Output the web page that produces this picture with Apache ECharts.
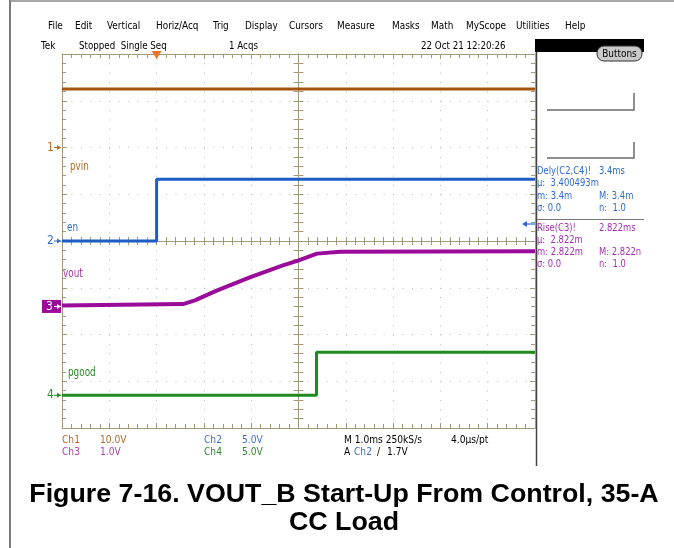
<!DOCTYPE html>
<html>
<head>
<meta charset="utf-8">
<script src="https://cdn.jsdelivr.net/npm/echarts@6/dist/echarts.min.js"></script>
<style>
  html, body { margin: 0; background: #fff; }
  #scope { width: 674px; height: 548px; }
</style>
</head>
<body>
<div id="scope"></div>
<script>
// channel setup as shown on the scope: volts per division and ground marker (div from centre)
const chLabels = ['pvin', 'en', 'vout', 'pgood']
const chVoltsPerDiv = [10, 5, 1, 5]
const chOffsetDiv = [2, 0, -1.4, -3.3]

// time in ms after the trigger, level in volts
const pvinTime = [-2, 8]
const pvinVolts = [12.5, 12.5]
const enTime = [-2, 0, 0, 8]
const enVolts = [0, 0, 6.6, 6.6]
const voutTime = [-2, 0.56, 0.81, 1.27, 1.97, 2.67, 2.99, 3.39, 3.88, 8]
const voutVolts = [0.02, 0.05, 0.13, 0.34, 0.62, 0.88, 0.98, 1.13, 1.17, 1.18]
const pgoodTime = [-2, 3.38, 3.38, 8]
const pgoodVolts = [0, 0, 4.6, 4.6]

const traceColors = ['#a4540c', '#1c5cc4', '#9a0b9a', '#1f8a1f']
const labelColors = ['#b86e25', '#2f6fd0', '#a43aa4', '#2a8a2a']

const gridColor = '#a39a7b'
const dotColor = '#b8b8b8'
const scopeFont = '"DejaVu Sans Condensed", "Liberation Sans", sans-serif'

const chart = echarts.init(document.getElementById('scope'))

function frameAxis(min, max, position, o) {
  o = o || {}
  return {
    type: 'value',
    min: min,
    max: max,
    interval: 1,
    position: position,
    axisLabel: { show: false },
    axisLine: {
      show: true,
      onZero: !!o.onZero,
      onZeroAxisIndex: o.onZeroAxisIndex,
      lineStyle: { color: gridColor, width: 1 },
    },
    axisTick: { show: true, inside: o.inside !== false, length: o.tick || 5, lineStyle: { color: gridColor } },
    minorTick: { show: true, splitNumber: 5, length: o.minor || 4, lineStyle: { color: gridColor } },
    splitLine: o.split
      ? { show: true, lineStyle: { color: dotColor, width: 1, type: o.split } }
      : { show: false },
  }
}

const traceData = [
  [pvinTime, pvinVolts],
  [enTime, enVolts],
  [voutTime, voutVolts],
  [pgoodTime, pgoodVolts],
]

const series = traceData.map(function (tr, i) {
  return {
    name: chLabels[i],
    type: 'line',
    xAxisIndex: 0,
    yAxisIndex: 0,
    showSymbol: false,
    silent: true,
    z: 5,
    lineStyle: { color: traceColors[i], width: i === 2 ? 4 : 3 },
    data: tr[0].map(function (t, k) {
      return [t, chOffsetDiv[i] + tr[1][k] / chVoltsPerDiv[i]]
    }),
  }
})

// trigger position marker on the top edge
series[1].markPoint = {
  symbol: 'triangle',
  symbolRotate: 180,
  symbolSize: [10, 8],
  symbolOffset: [0, 1],
  itemStyle: { color: '#f0722a' },
  label: { show: false },
  data: [{ coord: [0, 4] }],
}

function txt(text, x, y, color, size, sx, extra) {
  return Object.assign({
    type: 'text',
    x: x,
    y: y,
    scaleX: sx || 1,
    silent: true,
    z: 20,
    style: {
      text: text,
      fill: color || '#000',
      font: (size || 11) + 'px ' + scopeFont,
      textVerticalAlign: 'middle',
      verticalAlign: 'middle',
    },
  }, extra)
}

const menuItems = ['File', 'Edit', 'Vertical', 'Horiz/Acq', 'Trig', 'Display', 'Cursors',
  'Measure', 'Masks', 'Math', 'MyScope', 'Utilities', 'Help']
const menuX = [48, 75, 107, 156, 213, 245, 289, 337, 392, 431, 466, 516, 565]

const graphics = []
menuItems.forEach(function (m, i) { graphics.push(txt(m, menuX[i], 26, '#000', 11, 0.9)) })
graphics.push(txt('Tek', 41, 46, '#000', 11, 0.9))
graphics.push(txt('Stopped  Single Seq', 79, 46, '#000', 11, 0.88))
graphics.push(txt('1 Acqs', 229, 46, '#000', 11, 0.88))
graphics.push(txt('22 Oct 21 12:20:26', 421, 46, '#000', 11, 0.88))

// page frame
graphics.push({ type: 'line', silent: true, shape: { x1: 10, y1: 0, x2: 10, y2: 548 }, style: { stroke: '#7a7a7a', lineWidth: 2 } })
graphics.push({ type: 'line', silent: true, shape: { x1: 10, y1: 1, x2: 674, y2: 1 }, style: { stroke: '#8a8a8a', lineWidth: 1.5 } })
graphics.push({ type: 'line', silent: true, shape: { x1: 536.5, y1: 52, x2: 536.5, y2: 466 }, style: { stroke: '#444', lineWidth: 1.5 } })

// buttons bar
graphics.push({ type: 'rect', silent: true, shape: { x: 535, y: 39, width: 109, height: 13 }, style: { fill: '#000' } })
graphics.push({ type: 'rect', silent: true, z: 21, shape: { x: 597, y: 46, width: 45, height: 15, r: 7 }, style: { fill: '#c9c9c9', stroke: '#333', lineWidth: 1 } })
graphics.push({ type: 'text', silent: true, z: 22, x: 619.5, y: 54, scaleX: 0.9, style: { text: 'Buttons', fill: '#000', font: '11px ' + scopeFont, textAlign: 'center', align: 'center', textVerticalAlign: 'middle', verticalAlign: 'middle' } })

// side readout steps
graphics.push({ type: 'polyline', silent: true, shape: { points: [[547, 110], [634, 110], [634, 93]] }, style: { stroke: '#6c6c6c', lineWidth: 1.5, fill: null } })
graphics.push({ type: 'polyline', silent: true, shape: { points: [[547, 158], [634, 158], [634, 142]] }, style: { stroke: '#6c6c6c', lineWidth: 1.5, fill: null } })

// measurements
const blue = '#2e6ad0'
const purple = '#a330b0'
const ps = 0.85
graphics.push(txt('Dely(C2,C4)!', 537, 171, blue, 11, ps))
graphics.push(txt('3.4ms', 599, 171, blue, 11, ps))
graphics.push(txt('\u00b5:  3.400493m', 537, 183, blue, 11, ps))
graphics.push(txt('m: 3.4m', 537, 196, blue, 11, ps))
graphics.push(txt('M: 3.4m', 599, 196, blue, 11, ps))
graphics.push(txt('\u03c3: 0.0', 537, 208, blue, 11, ps))
graphics.push(txt('n:  1.0', 599, 208, blue, 11, ps))
graphics.push({ type: 'line', silent: true, shape: { x1: 537, y1: 219.5, x2: 644, y2: 219.5 }, style: { stroke: '#777', lineWidth: 1 } })
graphics.push({ type: 'polyline', silent: true, shape: { points: [[536, 224], [524, 224]] }, style: { stroke: blue, lineWidth: 1.2, fill: null } })
graphics.push({ type: 'polygon', silent: true, shape: { points: [[522, 224], [527, 221], [527, 227]] }, style: { fill: blue } })
graphics.push(txt('Rise(C3)!', 537, 228, purple, 11, ps))
graphics.push(txt('2.822ms', 599, 228, purple, 11, ps))
graphics.push(txt('\u00b5:  2.822m', 537, 240, purple, 11, ps))
graphics.push(txt('m: 2.822m', 537, 252, purple, 11, ps))
graphics.push(txt('M: 2.822n', 599, 252, purple, 11, ps))
graphics.push(txt('\u03c3: 0.0', 537, 264, purple, 11, ps))
graphics.push(txt('n:  1.0', 599, 264, purple, 11, ps))

// channel settings footer
const fs = 0.92
graphics.push(txt('Ch1', 62, 440, '#b06a28', 11, fs))
graphics.push(txt('10.0V', 100, 440, '#b06a28', 11, fs))
graphics.push(txt('Ch3', 62, 452, '#b040b0', 11, fs))
graphics.push(txt('1.0V', 100, 452, '#b040b0', 11, fs))
graphics.push(txt('Ch2', 204, 440, '#3f72d0', 11, fs))
graphics.push(txt('5.0V', 242, 440, '#3f72d0', 11, fs))
graphics.push(txt('Ch4', 204, 452, '#2e8b2e', 11, fs))
graphics.push(txt('5.0V', 242, 452, '#2e8b2e', 11, fs))
graphics.push(txt('M 1.0ms 250kS/s', 344, 440, '#000', 11, fs))
graphics.push(txt('4.0\u00b5s/pt', 451, 440, '#000', 11, fs))
graphics.push(txt('A', 344, 452, '#000', 11, fs))
graphics.push(txt('Ch2', 354, 452, '#3f72d0', 11, fs))
graphics.push(txt('\u2215', 377, 452, '#000', 11, fs))
graphics.push(txt('1.7V', 387, 452, '#000', 11, fs))

// caption
const capFont = 'bold 26px "Liberation Sans", Arial, sans-serif'
graphics.push({ type: 'text', silent: true, x: 344, y: 495, scaleX: 1.03, style: { text: 'Figure 7-16. VOUT_B Start-Up From Control, 35-A', font: capFont, fill: '#000', textAlign: 'center', align: 'center', textVerticalAlign: 'middle', verticalAlign: 'middle' } })
graphics.push({ type: 'text', silent: true, x: 344, y: 523, scaleX: 1.03, style: { text: 'CC Load', font: capFont, fill: '#000', textAlign: 'center', align: 'center', textVerticalAlign: 'middle', verticalAlign: 'middle' } })

// trace name labels
const labelPos = [[70, 167], [67, 228], [63, 274], [68, 373]]
chLabels.forEach(function (l, i) { graphics.push(txt(l, labelPos[i][0], labelPos[i][1], labelColors[i], 12, 0.82)) })

chart.setOption({
  animation: false,
  backgroundColor: '#fff',
  grid: { left: 62, top: 54, width: 473, height: 374 },
  xAxis: [
    frameAxis(-2, 8, 'bottom', { split: [1, 8.35] }),
    // time measured from screen centre, only used to put the vertical centre line in place
    { type: 'value', min: -5, max: 5, show: false },
    frameAxis(-2, 8, 'top'),
    frameAxis(-2, 8, 'bottom', { onZero: true, onZeroAxisIndex: 0, inside: true, tick: 4, minor: 4 }),
    frameAxis(-2, 8, 'bottom', { onZero: true, onZeroAxisIndex: 0, inside: false, tick: 4, minor: 4 }),
  ],
  yAxis: [
    frameAxis(-4, 4, 'left', { split: [1, 8.46] }),
    frameAxis(-4, 4, 'right'),
    frameAxis(-4, 4, 'left', { onZero: true, onZeroAxisIndex: 1, inside: true, tick: 5, minor: 5 }),
    frameAxis(-4, 4, 'left', { onZero: true, onZeroAxisIndex: 1, inside: false, tick: 5, minor: 5 }),
  ],
  series: series,
  graphic: graphics,
})

// ground reference markers on the left edge
const marks = []
chOffsetDiv.forEach(function (off, i) {
  const y = chart.convertToPixel({ yAxisIndex: 0 }, off)
  const c = traceColors[i]
  const fg = i === 2 ? '#fff' : labelColors[i]
  if (i === 2) {
    marks.push({ type: 'rect', silent: true, z: 20, shape: { x: 42, y: y - 6.5, width: 19, height: 13 }, style: { fill: c } })
  }
  marks.push(txt(String(i + 1), i === 2 ? 46 : 47, y, fg, 12, 1, { z: 21 }))
  marks.push({ type: 'line', silent: true, z: 21, shape: { x1: 54, y1: y, x2: 61, y2: y }, style: { stroke: fg, lineWidth: 1 } })
  marks.push({ type: 'polygon', silent: true, z: 21, shape: { points: [[61, y], [57, y - 2.5], [57, y + 2.5]] }, style: { fill: fg } })
})
chart.setOption({ graphic: graphics.concat(marks) })
</script>
</body>
</html>
